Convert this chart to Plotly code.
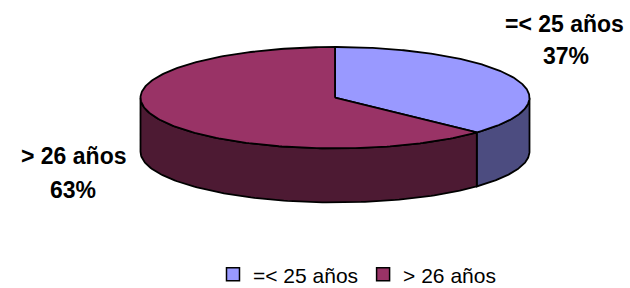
import numpy as np
import plotly.graph_objects as go

categories = ["=< 25 años", "> 26 años"]
values = [37, 63]
percent_labels = ["37%", "63%"]
top_colors = ["#9999FF", "#993366"]
side_colors = ["#4C4C80", "#4D1A33"]

# geometry of the 3D pie (pixel units)
CX, CY, RX, RY, DEPTH = 335.0, 97.7, 194.5, 50.7, 54.0
W, H = 630, 288


def pt(theta_deg, dy=0.0):
    t = np.radians(theta_deg)
    return CX + RX * np.sin(t), CY - RY * np.cos(t) + dy


fig = go.Figure()
total = float(sum(values))
start = 0.0
slices = []
for cat, v in zip(categories, values):
    a0, a1 = start, start + 360.0 * v / total
    slices.append((cat, a0, a1))
    start = a1

line = dict(color="black", width=1.8)

# visible side walls (front half: 90..270 deg, clockwise from top)
for (cat, a0, a1), sc in zip(slices, side_colors):
    lo, hi = max(a0, 90.0), min(a1, 270.0)
    if hi > lo:
        th = np.linspace(lo, hi, 120)
        xt, yt = pt(th)
        xb, yb = pt(th[::-1], DEPTH)
        xs = np.concatenate([xt, xb, xt[:1]])
        ys = np.concatenate([yt, yb, yt[:1]])
        fig.add_trace(go.Scatter(x=xs, y=ys, mode="lines", fill="toself",
                                 fillcolor=sc, line=line, showlegend=False,
                                 hoverinfo="skip"))

# top faces
for (cat, a0, a1), tc in zip(slices, top_colors):
    th = np.linspace(a0, a1, 240)
    xa, ya = pt(th)
    xs = np.concatenate([[CX], xa, [CX]])
    ys = np.concatenate([[CY], ya, [CY]])
    fig.add_trace(go.Scatter(x=xs, y=ys, mode="lines", fill="toself",
                             fillcolor=tc, line=line, showlegend=False,
                             hoverinfo="skip"))

# legend entries
for cat, tc in zip(categories, top_colors):
    fig.add_trace(go.Scatter(x=[None], y=[None], mode="markers", name=cat,
                             marker=dict(symbol="square", size=13, color=tc,
                                         line=dict(color="black", width=1.5))))

font = "Liberation Sans, Arial, sans-serif"
label_pos = [((564, 24), (566, 56)), ((73, 156), (73, 190))]
for cat, pct, ((x1, y1), (x2, y2)) in zip(categories, percent_labels, label_pos):
    fig.add_annotation(x=x1, y=y1, text="<b>%s</b>" % cat, showarrow=False,
                       xanchor="center", yanchor="middle",
                       font=dict(family=font, size=23, color="black"))
    fig.add_annotation(x=x2, y=y2, text="<b>%s</b>" % pct, showarrow=False,
                       xanchor="center", yanchor="middle",
                       font=dict(family=font, size=23, color="black"))

fig.update_layout(
    width=W, height=H,
    margin=dict(l=0, r=0, t=0, b=0, autoexpand=False),
    paper_bgcolor="white", plot_bgcolor="white",
    xaxis=dict(range=[0, W], visible=False, fixedrange=True),
    yaxis=dict(range=[H, 0], visible=False, fixedrange=True),
    showlegend=True,
    legend=dict(orientation="h", x=213 / W, xanchor="left",
                y=-0.025, yanchor="bottom",
                font=dict(family=font, size=21, color="black"),
                bgcolor="rgba(0,0,0,0)", itemwidth=30),
)

fig.write_html("out.html", config={"displayModeBar": False},
               post_script="document.body.style.margin='0px';")
